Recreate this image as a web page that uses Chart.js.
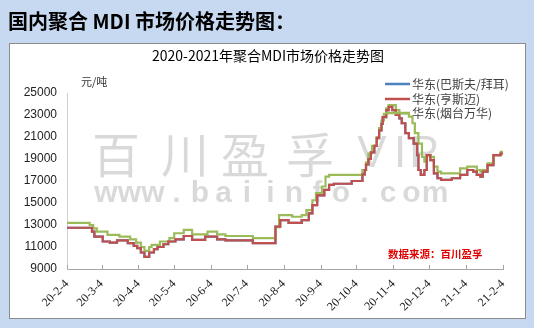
<!DOCTYPE html>
<html>
<head>
<meta charset="utf-8">
<script src="https://cdn.jsdelivr.net/npm/chart.js@4"></script>
<style>
  html, body { margin: 0; padding: 0; background: #c6d9f1; }
  canvas { display: block; }
</style>
</head>
<body>
<canvas id="MiGrafica" width="534" height="328" style="width:534px;height:328px"></canvas>
<script>
// 数据
let startDate = "2020-02-04";
let monthDates = ["2020-02-04", "2020-03-04", "2020-04-04", "2020-05-04", "2020-06-04", "2020-07-04",
    "2020-08-04", "2020-09-04", "2020-10-04", "2020-11-04", "2020-12-04", "2021-01-04", "2021-02-04"];
let monthLabels = ["20-2-4", "20-3-4", "20-4-4", "20-5-4", "20-6-4", "20-7-4",
    "20-8-4", "20-9-4", "20-10-4", "20-11-4", "20-12-4", "21-1-4", "21-2-4"];
let yTicks = [9000, 11000, 13000, 15000, 17000, 19000, 21000, 23000, 25000];

let seriesNames = ["华东(巴斯夫/拜耳)", "华东(亨斯迈)", "华东(烟台万华)"];

// 亨斯迈 (价格变动日期 / 价格)
let hsmDates = ["2020-02-04", "2020-02-25", "2020-02-27", "2020-03-05", "2020-03-11", "2020-03-17",
    "2020-03-26", "2020-03-31", "2020-04-03", "2020-04-06", "2020-04-09", "2020-04-13", "2020-04-17",
    "2020-04-20", "2020-04-25", "2020-04-29", "2020-05-05", "2020-05-12", "2020-05-19", "2020-05-30",
    "2020-06-09", "2020-06-16", "2020-07-09", "2020-07-28", "2020-08-01", "2020-08-08", "2020-08-19",
    "2020-08-25", "2020-08-28", "2020-09-01", "2020-09-07", "2020-09-11", "2020-09-15", "2020-09-30",
    "2020-10-09", "2020-10-11", "2020-10-12", "2020-10-14", "2020-10-16", "2020-10-19", "2020-10-21",
    "2020-10-23", "2020-10-25", "2020-10-26", "2020-10-29",
    "2020-10-31", "2020-11-03", "2020-11-06", "2020-11-09", "2020-11-11", "2020-11-14", "2020-11-17",
    "2020-11-21", "2020-11-24", "2020-11-25", "2020-11-27", "2020-11-30", "2020-12-02", "2020-12-05",
    "2020-12-08", "2020-12-11", "2020-12-14", "2020-12-23", "2020-12-30", "2021-01-05", "2021-01-10",
    "2021-01-13", "2021-01-16", "2021-01-18", "2021-01-22", "2021-01-27", "2021-02-02", "2021-02-04"];
let hsmPrices = [12750, 12400, 11950, 11500, 11400, 11600,
    11350, 11100, 10900, 10500, 10100, 10500, 10800,
    11000, 11250, 11500, 11700, 12000, 11650, 11950,
    11700, 11600, 11350, 12850, 13450, 13200, 13450,
    14050, 14800, 15700, 16200, 16650, 16750, 17000,
    17600, 18000, 18500, 19000, 19600, 20200, 20900,
    21600, 22200, 22800, 23450,
    23750, 23450, 23000, 22700, 22250, 21350, 20900,
    20400, 19350, 18000, 17550, 18000, 19350, 18900,
    17700, 17250, 17100, 17250, 17550, 18000, 17850,
    17550, 17400, 17850, 18450, 19350, 19500, 19500];

// 巴斯夫/拜耳 (与亨斯迈重合)
let bsfDates = hsmDates;
let bsfPrices = hsmPrices;

// 烟台万华
let whDates = ["2020-02-04", "2020-02-23", "2020-02-26", "2020-02-29", "2020-03-09", "2020-03-19",
    "2020-03-28", "2020-04-02", "2020-04-06", "2020-04-09", "2020-04-13", "2020-04-15", "2020-04-22",
    "2020-04-30", "2020-05-04", "2020-05-12", "2020-05-19", "2020-06-01", "2020-06-09", "2020-06-16",
    "2020-07-09", "2020-07-28", "2020-07-31", "2020-08-11", "2020-08-19", "2020-08-23", "2020-08-28",
    "2020-08-31", "2020-09-05", "2020-09-08", "2020-09-11", "2020-10-09", "2020-10-12", "2020-10-14",
    "2020-10-17", "2020-10-21", "2020-10-23", "2020-10-25", "2020-10-27", "2020-10-29", "2020-10-31",
    "2020-11-06", "2020-11-09", "2020-11-17", "2020-11-20",
    "2020-11-22", "2020-11-25", "2020-11-28", "2020-11-30", "2020-12-02", "2020-12-05", "2020-12-08",
    "2020-12-11", "2020-12-14", "2020-12-30", "2021-01-05", "2021-01-13", "2021-01-16", "2021-01-18",
    "2021-01-22", "2021-01-27", "2021-02-02", "2021-02-04"];
let whPrices = [13200, 13000, 12700, 12400, 12100, 11950,
    11700, 11400, 11000, 10650, 11000, 11200, 11500,
    11800, 12250, 12550, 12150, 12400, 12150, 12000,
    11800, 12800, 13900, 13750, 13900, 14350, 15250,
    15900, 16500, 17400, 17550, 18000, 18700, 19500,
    20200, 21000, 21800, 22500, 23100, 23600, 23900,
    23450, 23150, 22850, 22250,
    21350, 20400, 19200, 18750, 19350, 19200, 18300,
    17850, 17700, 18150, 18300, 18000, 17850, 18000,
    18600, 19350, 19650, 19600];

let colores = ["#4f81bd", "#c0504d", "#9bbb59"];

function dia(s) {
    return (Date.parse(s) - Date.parse(startDate)) / 86400000;
}
function puntos(fechas, valores) {
    return fechas.map((f, i) => ({ x: dia(f), y: valores[i] }));
}
let monthDays = monthDates.map(dia);

let fondo = {
    id: "fondo",
    beforeDraw(chart) {
        let c = chart.ctx;
        c.save();
        c.fillStyle = "#c6d9f1";
        c.fillRect(0, 0, 534, 328);
        c.fillStyle = "#ffffff";
        c.fillRect(9, 43, 517, 276);
        c.strokeStyle = "#8c8c8c";
        c.lineWidth = 1;
        c.strokeRect(9.5, 43.5, 516, 275);

        c.fillStyle = "#000";
        c.font = "bold 20px 'Noto Sans CJK SC'";
        c.textBaseline = "middle";
        c.textAlign = "left";
        c.fillText("国内聚合 MDI 市场价格走势图：", 8, 21);

        c.font = "14px 'Noto Sans CJK SC'";
        c.textAlign = "center";
        c.fillText("2020-2021年聚合MDI市场价格走势图", 268, 56);

        c.fillStyle = "#333";
        c.font = "11px 'Noto Sans CJK SC'";
        c.textAlign = "left";
        c.fillText("元/吨", 81, 82);
        c.restore();
    },
    beforeDatasetsDraw(chart) {
        // 水印
        let c = chart.ctx;
        c.save();
        c.fillStyle = "rgba(0,0,0,0.15)";
        c.textBaseline = "middle";
        c.textAlign = "center";
        c.font = "48px 'Noto Sans CJK SC'";
        let wm = ["百", "川", "盈", "孚"];
        let wx = [116, 185, 245, 310];
        wm.forEach((t, i) => c.fillText(t, wx[i], 155));
        c.font = "44px 'Liberation Sans'";
        c.fillText("V", 372, 155);
        c.fillText("I", 400, 155);
        c.fillText("P", 424, 155);
        c.font = "bold 30px 'Liberation Sans'";
        let url = "www.baiinfo.com";
        for (let i = 0; i < url.length; i++) {
            c.fillText(url[i], 106 + i * 23.5, 194);
        }
        c.restore();
    },
    afterDraw(chart) {
        let c = chart.ctx;
        let xs = chart.scales.x;
        let area = chart.chartArea;
        c.save();
        // x轴刻度
        c.strokeStyle = "#a6a6a6";
        c.lineWidth = 1;
        monthDays.forEach(d => {
            let px = Math.round(xs.getPixelForValue(d)) + 0.5;
            c.beginPath();
            c.moveTo(px, area.bottom);
            c.lineTo(px, area.bottom - 4);
            c.stroke();
        });
        // 图例
        c.font = "12px 'Noto Sans CJK SC'";
        c.textBaseline = "middle";
        c.textAlign = "left";
        let ly = [84, 99, 113];
        seriesNames.forEach((n, i) => {
            c.strokeStyle = colores[i];
            c.lineWidth = 2.5;
            c.beginPath();
            c.moveTo(385, ly[i]);
            c.lineTo(410, ly[i]);
            c.stroke();
            c.fillStyle = "#404040";
            c.fillText(n, 412, ly[i]);
        });
        // 数据来源
        c.fillStyle = "#e00000";
        c.font = "bold 10.5px 'Noto Sans CJK SC'";
        c.fillText("数据来源：百川盈孚", 388, 254);
        c.restore();
    }
};

let chartConfig = {
    type: "line",
    data: {
        datasets: [{
            label: seriesNames[0],
            data: puntos(bsfDates, bsfPrices),
            borderColor: colores[0],
            order: 2
        }, {
            label: seriesNames[1],
            data: puntos(hsmDates, hsmPrices),
            borderColor: colores[1],
            order: 0
        }, {
            label: seriesNames[2],
            data: puntos(whDates, whPrices),
            borderColor: colores[2],
            order: 1
        }]
    },
    options: {
        responsive: false,
        animation: false,
        layout: { padding: { top: 93, right: 31, left: 0, bottom: 0 } },
        elements: {
            line: { borderWidth: 2.2, stepped: "before", tension: 0, fill: false },
            point: { radius: 0, hoverRadius: 0 }
        },
        plugins: {
            legend: { display: false },
            tooltip: { enabled: false },
            title: { display: false }
        },
        scales: {
            x: {
                type: "linear",
                min: 0,
                max: monthDays[monthDays.length - 1],
                afterFit(s) { s.height = 59; },
                afterBuildTicks(s) { s.ticks = monthDays.map(v => ({ value: v })); },
                grid: { display: true, drawOnChartArea: false, drawTicks: false },
                border: { display: true, color: "#a6a6a6" },
                ticks: {
                    autoSkip: false,
                    maxRotation: 45,
                    minRotation: 45,
                    padding: 8,
                    color: "#222",
                    font: { family: "'Liberation Serif'", size: 12 },
                    callback: (v, i) => monthLabels[i]
                }
            },
            y: {
                min: 9000,
                max: 25000,
                afterFit(s) { s.width = 67; },
                afterBuildTicks(s) { s.ticks = yTicks.map(v => ({ value: v })); },
                grid: { display: false, drawTicks: false },
                border: { display: true, color: "#d0d0d0" },
                ticks: {
                    padding: 10,
                    color: "#222",
                    font: { family: "'Liberation Sans'", size: 12 },
                    callback: v => String(v)
                }
            }
        }
    },
    plugins: [fondo]
};

let chart = new Chart(document.getElementById("MiGrafica").getContext("2d"), chartConfig);
</script>
</body>
</html>
